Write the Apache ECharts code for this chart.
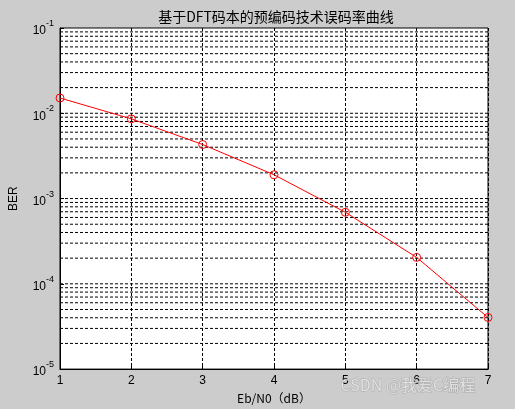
<!DOCTYPE html>
<html><head><meta charset="utf-8">
<script src="https://cdn.jsdelivr.net/npm/echarts@6/dist/echarts.min.js"></script>
<style>html,body{margin:0;padding:0;background:#cccccc;}#c{width:515px;height:409px;}</style>
</head><body><div id="c"></div>
<script>
const snr = [1, 2, 3, 4, 5, 6, 7];
const ber = [0.0151, 0.0086, 0.0043, 0.0019, 0.00069, 0.000204, 0.0000403];
const titleText = '基于DFT码本的预编码技术误码率曲线';
const xName = 'Eb/N0（dB）';
const yName = 'BER';
const yMin = 1e-5, yMax = 1e-1, xMin = 1, xMax = 7;

const gridVals = [];
for (let k = -5; k <= -2; k++) for (let m = 1; m <= 9; m++) { const v = m * Math.pow(10, k); if (v > yMin * 1.0001) gridVals.push(v); }

const chart = echarts.init(document.getElementById('c'));
const font = 'Liberation Sans, Arial, sans-serif';
const gridSeries = gridVals.map(v => ({
  type: 'line', data: [[xMin, v], [xMax, v]], symbol: 'none', silent: true, z: 1,
  lineStyle: { color: '#000', type: [3, 2], width: 1 }, emphasis: { disabled: true }
}));
chart.setOption({
  backgroundColor: '#cccccc',
  animation: false,
  title: { text: titleText, left: 271, top: 5, textAlign: 'center',
    textStyle: { fontFamily: 'Noto Sans CJK SC', fontSize: 14, fontWeight: 'normal', color: '#000' } },
  grid: { left: 54, top: 28, width: 434, height: 342, show: true, backgroundColor: '#fff', borderColor: '#000', borderWidth: 1 },
  xAxis: { type: 'value', min: xMin, max: xMax, interval: 1,
    name: xName, nameLocation: 'middle', nameGap: 21,
    nameTextStyle: { fontFamily: 'Noto Sans CJK SC', fontSize: 12, color: '#000' },
    axisLine: { lineStyle: { color: '#000' } },
    axisTick: { inside: true, length: 4, lineStyle: { color: '#000' } },
    axisLabel: { fontFamily: font, fontSize: 12, color: '#000', margin: 6 },
    splitLine: { show: true, lineStyle: { color: '#000', type: [3, 2], width: 1 } } },
  yAxis: { type: 'log', logBase: 10, min: yMin, max: yMax,
    name: yName, nameLocation: 'middle', nameGap: 40,
    nameTextStyle: { fontFamily: font, fontSize: 12, color: '#000' },
    axisLine: { lineStyle: { color: '#000' } },
    axisTick: { inside: true, length: 4, lineStyle: { color: '#000' } },
    axisLabel: { margin: 6, color: '#000',
      formatter: v => '{b|10}{s|' + Math.round(Math.log10(v)) + '}',
      rich: { b: { fontFamily: font, fontSize: 12, color: '#000', verticalAlign: 'bottom', padding: [6, 0, 0, 0] },
              s: { fontFamily: font, fontSize: 9, color: '#000', verticalAlign: 'top', padding: [0, 0, 6, 0] } } },
    splitLine: { show: false } },
  series: gridSeries.concat([
    { type: 'line', data: snr.map((x, i) => [x, ber[i]]), symbol: 'circle', symbolSize: 8,
      itemStyle: { color: 'transparent', borderColor: '#ff0000', borderWidth: 1 },
      lineStyle: { color: '#ff0000', width: 1 }, z: 3 }
  ]),
  graphic: [{ type: 'text', left: 340, top: 376, z: 100,
    style: { text: 'CSDN @我爱C编程', font: '16px "Noto Sans CJK SC"', fill: 'rgba(255,255,255,0.6)', stroke: 'rgba(140,140,140,0.5)', lineWidth: 1 } }]
});
</script></body></html>
